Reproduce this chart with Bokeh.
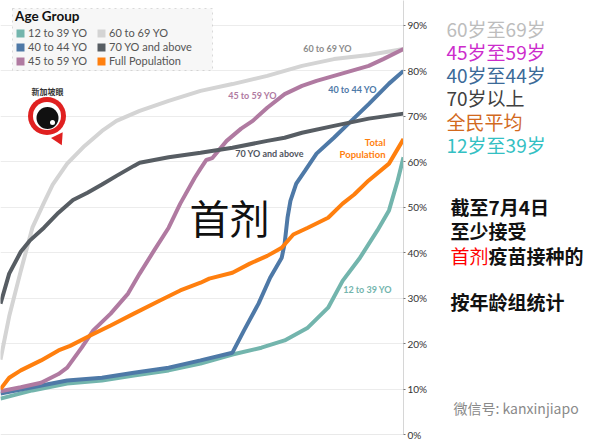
from bokeh.plotting import figure
from bokeh.layouts import row
from bokeh.models import (Range1d, LinearAxis, FixedTicker, PrintfTickFormatter,
                          Label, Legend, LegendItem, Span, Grid, BoxAnnotation)
from bokeh.embed import file_html
from bokeh.resources import INLINE

# ---------------- data (x = days since 15 Feb 2021, day 139 = 4 July 2021; y = % with first dose)
groups = ["12 to 39 YO", "40 to 44 YO", "45 to 59 YO", "60 to 69 YO", "70 YO and above", "Full Population"]

days_60_69 = [0, 3, 7, 11, 15, 18, 23, 29, 35, 40, 48, 58, 69, 80, 92, 104, 115, 127, 139]
pct_60_69 = [16.5, 26, 36, 45.5, 51, 55, 59.6, 63.5, 66.8, 69, 71.2, 73.4, 75.6, 77.1, 78.9, 81.1, 82.6, 83.5, 84.8]

days_70_up = [0, 3, 7, 10, 15, 20, 25, 30, 35, 40, 46, 48, 58, 69, 80, 92, 98, 104, 115, 127, 139]
pct_70_up = [28.8, 35.4, 40.2, 42.6, 45.5, 48.8, 51.6, 53.2, 55, 56.9, 59.1, 59.8, 61, 62, 63.1, 64.6, 65.3, 66.4, 67.9, 69.5, 70.6]

days_45_59 = [0, 7, 14, 20, 23, 28, 32, 38, 44, 48, 53, 58, 62, 67, 69, 71, 73, 78, 83, 87, 92, 98, 104, 109, 115, 121, 127, 132, 139]
pct_45_59 = [9.5, 10.4, 11.4, 13.3, 14.7, 19.1, 22.9, 26.6, 31, 35.4, 40.5, 45.5, 50.8, 56.5, 58.5, 60.4, 60.8, 64.6, 67.3, 69, 71.9, 74.9, 76.7, 77.8, 78.9, 80, 81.1, 82.6, 84.8]

days_40_44 = [0, 11, 23, 35, 46, 58, 69, 80, 84, 89, 93, 97, 98, 99, 100, 102, 105, 109, 115, 121, 127, 134, 139]
pct_40_44 = [9, 10.4, 11.9, 12.5, 13.6, 14.7, 16.3, 18, 22.9, 28.8, 34.5, 38.9, 42, 47.7, 51.4, 55.2, 58, 61.8, 65.3, 69, 72.7, 77.2, 80]

days_12_39 = [0, 11, 23, 35, 46, 58, 69, 80, 90, 98, 106, 113, 118, 124, 130, 134, 137, 139]
pct_12_39 = [7.9, 9.7, 11.2, 11.9, 13, 14.1, 15.6, 17.6, 19.1, 20.7, 23.5, 27.9, 33.8, 38.9, 44.9, 49.3, 55.9, 61]

days_full = [0, 3, 7, 14, 20, 24, 31, 38, 46, 55, 62, 69, 72, 80, 86, 92, 97, 101, 106, 113, 118, 122, 127, 134, 139]
pct_full = [10, 12.5, 14.1, 16.3, 18.5, 19.5, 21.8, 24, 26.6, 29.5, 31.7, 33.4, 34.3, 35.6, 37.6, 39.3, 41.1, 44, 45.5, 47.7, 50.8, 52.8, 55.9, 59.6, 65]

y_ticks = [0, 10, 20, 30, 40, 50, 60, 70, 80, 90]

colors = {
    "12 to 39 YO": "#73b5ad",
    "40 to 44 YO": "#4e79a7",
    "45 to 59 YO": "#b07aa1",
    "60 to 69 YO": "#d4d4d4",
    "70 YO and above": "#575d63",
    "Full Population": "#ff7f0e",
}

side_texts = ["60岁至69岁", "45岁至59岁", "40岁至44岁", "70岁以上", "全民平均", "12岁至39岁"]
side_colors = ["#bdbdbd", "#cc2ccc", "#3b6a98", "#404040", "#d2691e", "#33c0c3"]

# ---------------- layout helpers (page pixel -> data of the chart)
H = 443
FRAME_W, FRAME_H = 403, 434
W1 = 440
W2 = 160
X0, X1 = 0.0, 139.0
PX_PER_PCT = 4.545
Y_TOP = FRAME_H / PX_PER_PCT


def px_x(px):
    return X0 + px * (X1 - X0) / FRAME_W


def px_y(py):
    return (FRAME_H - py) / PX_PER_PCT


p = figure(width=W1, height=H, output_backend="svg", toolbar_location=None,
           x_range=Range1d(X0, X1), y_range=Range1d(0, Y_TOP),
           x_axis_location=None, y_axis_location=None,
           min_border_left=0, min_border_top=0, min_border_bottom=H - FRAME_H,
           min_border_right=W1 - FRAME_W)
p.outline_line_color = None
p.grid.grid_line_color = None
p.background_fill_color = "white"
p.border_fill_color = "white"

p.add_layout(Grid(dimension=1, ticker=FixedTicker(ticks=y_ticks), grid_line_color="#ececec", grid_line_width=1))
p.add_layout(Span(location=0, dimension="width", line_color="#d3d3d3", line_width=1))

ax = LinearAxis(ticker=FixedTicker(ticks=y_ticks), formatter=PrintfTickFormatter(format="%d%%"))
ax.axis_line_color = "#d6d6d6"
ax.major_tick_line_color = "#777777"
ax.major_tick_out = 2
ax.major_tick_in = 0
ax.minor_tick_line_color = None
ax.major_label_text_font = "Lato"
ax.major_label_text_font_size = "10px"
ax.major_label_text_color = "#333333"
ax.major_label_standoff = 2
p.add_layout(ax, "right")

# lines (draw order as in reference)
LW = 4
p.line(days_60_69, pct_60_69, line_color=colors["60 to 69 YO"], line_width=LW)
p.line(days_12_39, pct_12_39, line_color=colors["12 to 39 YO"], line_width=LW)
p.line(days_40_44, pct_40_44, line_color=colors["40 to 44 YO"], line_width=LW)
p.line(days_45_59, pct_45_59, line_color=colors["45 to 59 YO"], line_width=LW)
p.line(days_70_up, pct_70_up, line_color=colors["70 YO and above"], line_width=LW)
p.line(days_full, pct_full, line_color=colors["Full Population"], line_width=LW)

# legend: dotted box + two columns of square swatches
p.add_layout(BoxAnnotation(left=px_x(12), right=px_x(212), top=px_y(8), bottom=px_y(70),
                           fill_color="#f7f7f7", fill_alpha=1, line_color="#8c8c8c",
                           line_dash="dotted", line_width=1))

nan = float("nan")
items = []
for g in groups:
    r = p.quad(left=[nan], right=[nan], top=[nan], bottom=[nan], fill_color=colors[g], line_color=None)
    items.append(LegendItem(label=g, renderers=[r]))

LEG_H = 64
LEG_TOP = 3
common = dict(title_text_font="Lato", title_text_font_style="bold", title_text_font_size="13.5px",
              title_text_color="#111111", title_standoff=2,
              label_text_font="Lato", label_text_font_size="11px", label_text_color="#555555",
              glyph_width=10, glyph_height=10, label_height=13, label_standoff=3,
              spacing=1, padding=2, border_line_color=None, background_fill_alpha=0)
p.add_layout(Legend(items=items[:3], location=(15, FRAME_H - LEG_TOP - LEG_H), title="Age Group", **common))
p.add_layout(Legend(items=items[3:], location=(96, FRAME_H - LEG_TOP - LEG_H), title=" ", **common))


def lab(fig, text, x, y, color, size="9px", align="center", style="bold", font="Lato"):
    fig.add_layout(Label(x=x, y=y, text=text, text_color=color, text_font=font,
                         text_font_size=size, text_font_style=style, text_align=align,
                         text_baseline="middle"))


# in-chart series labels
lab(p, "60 to 69 YO", px_x(327), px_y(48), "#8c8c8c")
lab(p, "45 to 59 YO", px_x(252), px_y(95), colors["45 to 59 YO"])
lab(p, "40 to 44 YO", px_x(352), px_y(89), colors["40 to 44 YO"])
lab(p, "70 YO and above", px_x(269), px_y(153), "#505560")
lab(p, "Total", px_x(385), px_y(142), colors["Full Population"], size="9.5px", align="right")
lab(p, "Population", px_x(385), px_y(154), colors["Full Population"], size="9.5px", align="right")
lab(p, "12 to 39 YO", px_x(367), px_y(289), colors["12 to 39 YO"])

CJK = "Noto Sans CJK SC"
lab(p, "首剂", px_x(229), px_y(216), "#111111", size="40px", style="normal", font=CJK)

# logo (decorative)
lx, ly = px_x(46.5), px_y(115.5)
p.scatter([px_x(58)], [px_y(138)], marker="triangle", size=13, angle=3.6, fill_color="#e02020", line_color=None)
p.scatter([lx], [ly], marker="circle", size=38, fill_color="#e02020", line_color=None)
p.scatter([lx], [ly], marker="circle", size=28, fill_color="white", line_color=None)
p.scatter([px_x(47)], [px_y(117.5)], marker="circle", size=22, fill_color="#111111", line_color=None)
p.scatter([px_x(52)], [px_y(122)], marker="circle", size=5, fill_color="white", line_color=None)
lab(p, "新加坡眼", px_x(47), px_y(91), "#333333", size="8px", style="bold", font=CJK)

# ---------------- right-hand annotation panel (page-pixel coordinates)
p2 = figure(width=W2, height=H, output_backend="svg", toolbar_location=None,
            x_range=Range1d(W1, W1 + W2), y_range=Range1d(H, 0),
            x_axis_location=None, y_axis_location=None, min_border=0)
p2.outline_line_color = None
p2.grid.grid_line_color = None

for i, (t, c) in enumerate(zip(side_texts, side_colors)):
    lab(p2, t, 446, 29 + i * 23.5, c, size="19px", align="left", style="normal", font=CJK)

lab(p2, "截至7月4日", 450, 210, "#111111", size="19px", align="left", style="bold", font=CJK)
lab(p2, "至少接受", 450, 235, "#111111", size="19px", align="left", style="bold", font=CJK)
lab(p2, "首剂", 450, 260, "#ff0000", size="19px", align="left", style="normal", font=CJK)
lab(p2, "疫苗接种的", 488, 260, "#111111", size="19px", align="left", style="bold", font=CJK)
lab(p2, "按年龄组统计", 450, 307, "#111111", size="19px", align="left", style="bold", font=CJK)
lab(p2, "微信号: kanxinjiapo", 453, 416, "#8a8a8a", size="14px", align="left", style="normal", font=CJK)

layout = row(p, p2, spacing=0)
open("out.html", "w").write(file_html(layout, INLINE))
